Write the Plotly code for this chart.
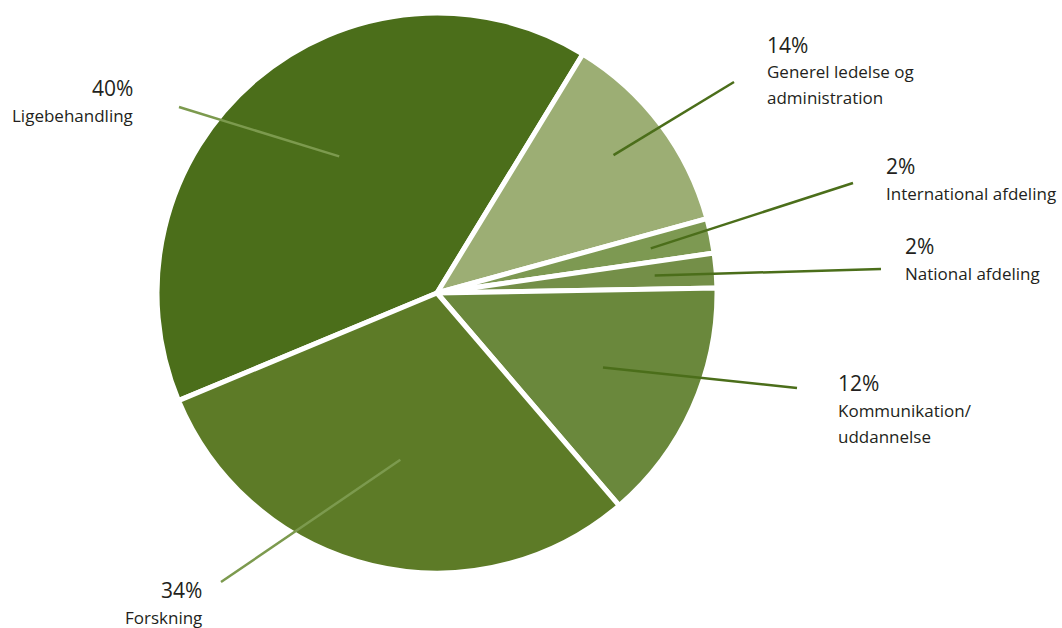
import math
import plotly.graph_objects as go

# ---- data ----
categories = ["Ligebehandling", "Generel ledelse og administration", "International afdeling",
              "National afdeling", "Kommunikation/ uddannelse", "Forskning"]
values = [40, 12, 2, 2, 14, 30]          # slice sizes
pct_labels = ["40%", "14%", "2%", "2%", "12%", "34%"]   # percentages as printed
name_lines = [["Ligebehandling"], ["Generel ledelse og", "administration"], ["International afdeling"],
              ["National afdeling"], ["Kommunikation/", "uddannelse"], ["Forskning"]]
colors = ["#4b6e1a", "#9cae74", "#7d9952", "#748f48", "#6a883c", "#5d7b27"]

# ---- layout constants (pixels) ----
W, H = 1062, 628
CX, CY, R = 437, 293, 280
START = 247.4  # degrees clockwise from 12 o'clock

inner_frac = [0.60, 0.80, 0.78, 0.78, 0.65, 0.61]
inner_dang = [5, -1, 0, 0, 0, -1]
outer_pts = [(179, 107), (734, 82), (853, 183), (881, 269), (797, 388), (221, 582)]
line_cols = ["#7c9a4e", "#4b6e1a", "#4b6e1a", "#4b6e1a", "#4b6e1a", "#7c9a4e"]
label_pos = [(135, 88, "right"), (765, 45, "left"), (884, 166, "left"),
             (903, 246, "left"), (836, 383, "left"), (204, 590, "right")]

def px(x):
    return x / W

def py(y):
    return 1 - y / H

fig = go.Figure(go.Pie(
    labels=categories, values=values, sort=False, direction="clockwise",
    rotation=START, textinfo="none", hoverinfo="label+value",
    marker=dict(colors=colors, line=dict(color="white", width=5)),
    domain=dict(x=[px(CX - R), px(CX + R)], y=[py(CY + R), py(CY - R)]),
    showlegend=False,
))

total = sum(values)
cum = 0
shapes, annots = [], []
for i, v in enumerate(values):
    mid = START + (cum + v / 2) / total * 360 + inner_dang[i]
    cum += v
    a = math.radians(mid)
    r = R * inner_frac[i]
    x0, y0 = CX + r * math.sin(a), CY - r * math.cos(a)
    x1, y1 = outer_pts[i]
    shapes.append(dict(type="line", xref="paper", yref="paper",
                       x0=px(x0), y0=py(y0), x1=px(x1), y1=py(y1),
                       line=dict(color=line_cols[i], width=2.5)))
    lx, ly, al = label_pos[i]
    annots.append(dict(x=px(lx), y=py(ly), xref="paper", yref="paper", text=pct_labels[i],
                       showarrow=False, xanchor=al, yanchor="middle",
                       font=dict(family="Open Sans", size=21, color="#231f20")))
    for j, t in enumerate(name_lines[i]):
        annots.append(dict(x=px(lx), y=py(ly + 27 + 26 * j), xref="paper", yref="paper", text=t,
                           showarrow=False, xanchor=al, yanchor="middle",
                           font=dict(family="Open Sans", size=17, color="#231f20")))

fig.update_layout(width=W, height=H, margin=dict(l=0, r=0, t=0, b=0),
                  paper_bgcolor="white", plot_bgcolor="white",
                  shapes=shapes, annotations=annots)
fig.write_html("out.html", config={"displayModeBar": False},
               post_script="document.body.style.margin='0';document.body.style.overflow='hidden';")
